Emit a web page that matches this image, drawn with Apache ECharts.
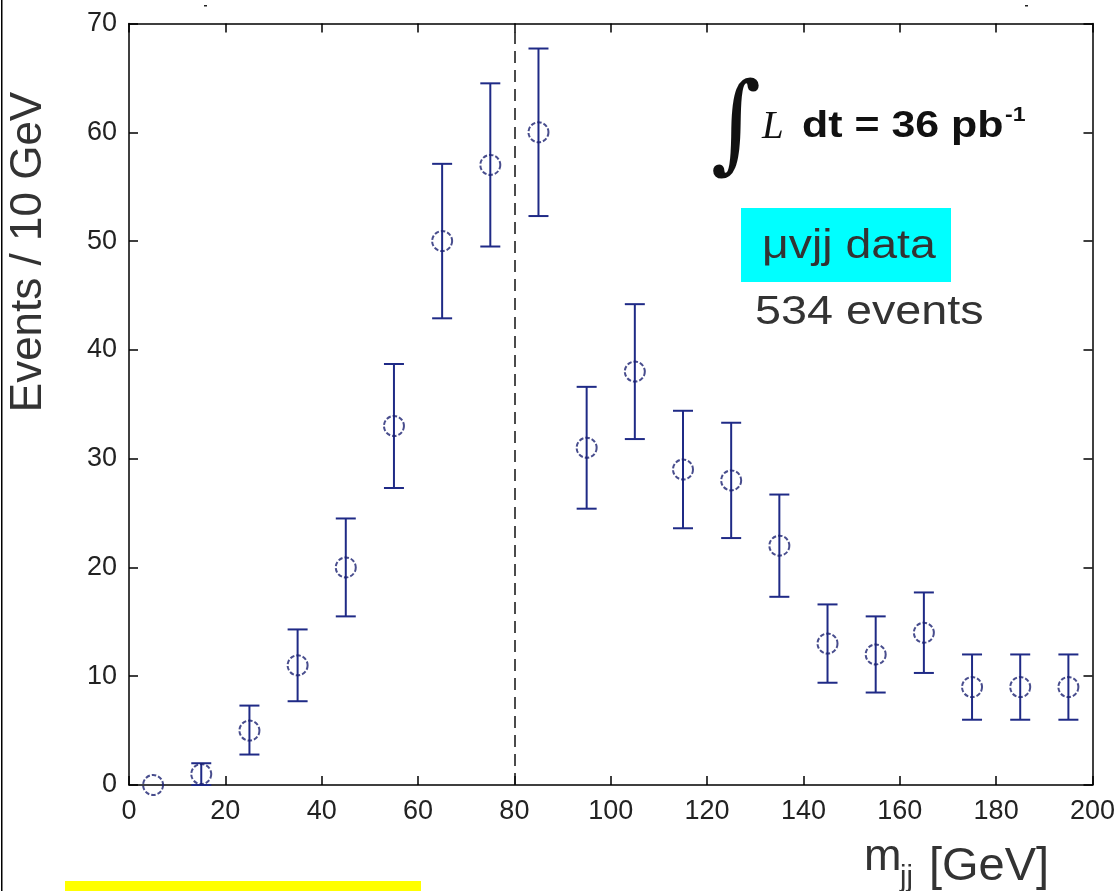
<!DOCTYPE html>
<html>
<head>
<meta charset="utf-8">
<script src="https://cdn.jsdelivr.net/npm/echarts@6/dist/echarts.min.js"></script>
<style>
html,body{margin:0;padding:0;background:#fff;}
#chart{width:1118px;height:891px;}
</style>
</head>
<body>
<div id="chart"></div>
<script>
// ---- data ----
const binCenters = [5,15,25,35,45,55,65,75,85,95,105,115,125,135,145,155,165,175,185,195];
const events     = [0,1,5,11,20,33,50,57,60,31,38,29,28,22,13,12,14,9,9,9];
const errLow     = [0,0,2.8,7.7,15.5,27.3,42.9,49.5,52.3,25.4,31.8,23.6,22.7,17.3,9.4,8.5,10.3,6,6,6];
const errHigh    = [0,2,7.3,14.3,24.5,38.7,57.1,64.5,67.7,36.6,44.2,34.4,33.3,26.7,16.6,15.5,17.7,12,12,12];
const xTicks = {min:0, max:200, step:20};
const yTicks = {min:0, max:70, step:10};
const cutValue = 80;
const yAxisTitle = 'Events / 10 GeV';
const lumiText = 'dt = 36 pb';
const sampleText = 'μvjj data';
const countText = '534 events';

const navy = '#1f2a86';
const pts = binCenters.map((x,i)=>[x, events[i]]);
const bars = binCenters.map((x,i)=>[x, errLow[i], errHigh[i]]).filter(d=>d[2]>d[1]);

const axisLineStyle = {color:'#000', width:1.5};
const labelFont = {fontFamily:'Liberation Sans', fontSize:27, color:'#222'};

function baseAxis(extra){
  return Object.assign({
    type:'value', splitLine:{show:false},
    axisLine:{show:true, onZero:false, lineStyle:axisLineStyle},
    axisTick:{show:true, inside:true, length:9, lineStyle:axisLineStyle}
  }, extra);
}

const chart = echarts.init(document.getElementById('chart'), null, {renderer:'canvas'});
chart.setOption({
  backgroundColor:'#fff',
  animation:false,
  grid:{left:129, right:23, top:23.5, bottom:106},
  xAxis:[
    baseAxis({position:'bottom', min:xTicks.min, max:xTicks.max, interval:xTicks.step,
      axisLabel:Object.assign({margin:13}, labelFont)}),
    baseAxis({position:'top', min:xTicks.min, max:xTicks.max, interval:xTicks.step, axisLabel:{show:false}})
  ],
  yAxis:[
    baseAxis({position:'left', min:yTicks.min, max:yTicks.max, interval:yTicks.step,
      axisLabel:Object.assign({margin:12}, labelFont)}),
    baseAxis({position:'right', min:yTicks.min, max:yTicks.max, interval:yTicks.step, axisLabel:{show:false}})
  ],
  series:[
    {
      type:'custom', xAxisIndex:0, yAxisIndex:0, z:2,
      encode:{x:0, y:[1,2]},
      data:bars,
      renderItem:function(params, api){
        const x = api.value(0), lo = api.value(1), hi = api.value(2);
        const pT = api.coord([x, hi]), pB = api.coord([x, lo]);
        const hw = 10;
        const st = {stroke:navy, lineWidth:2};
        return {type:'group', children:[
          {type:'line', shape:{x1:pT[0], y1:pT[1], x2:pB[0], y2:pB[1]}, style:st},
          {type:'line', shape:{x1:pT[0]-hw, y1:pT[1], x2:pT[0]+hw, y2:pT[1]}, style:st},
          {type:'line', shape:{x1:pB[0]-hw, y1:pB[1], x2:pB[0]+hw, y2:pB[1]}, style:st}
        ]};
      }
    },
    {
      type:'scatter', xAxisIndex:0, yAxisIndex:0, z:3,
      data:pts, symbol:'circle', symbolSize:20,
      itemStyle:{color:'rgba(0,0,0,0)', borderColor:'#1a2070', borderWidth:2, borderType:[4.5,2]},
      markLine:{
        silent:true, symbol:['none','none'], label:{show:false},
        lineStyle:{color:'#111', type:[12,7], width:1.5},
        data:[{xAxis:cutValue}]
      }
    }
  ],
  graphic:[
    {type:'rect', left:1, top:0, shape:{width:1.5, height:891}, style:{fill:'#000'}},
    {type:'rect', x:65, y:881, shape:{width:356, height:10}, style:{fill:'#ffff00'}},
    {type:'rect', x:204, y:5, shape:{width:3, height:1.5}, style:{fill:'#222'}},
    {type:'rect', x:1025, y:5, shape:{width:3, height:1.5}, style:{fill:'#222'}},
    // y-axis title
    {type:'text', x:29, y:252, rotation:Math.PI/2,
      style:{text:yAxisTitle, font:'44px "Liberation Sans"', fill:'#333',
        align:'center', verticalAlign:'middle', textAlign:'center', textVerticalAlign:'middle'}},
    // x-axis title m_jj [GeV]
    {type:'text', x:864, y:880,
      style:{text:'m', font:'45px "Liberation Sans"', fill:'#333',
        align:'left', verticalAlign:'bottom', textAlign:'left', textVerticalAlign:'bottom'}},
    {type:'text', x:900, y:892,
      style:{text:'jj', font:'29px "Liberation Sans"', fill:'#333',
        align:'left', verticalAlign:'bottom', textAlign:'left', textVerticalAlign:'bottom'}},
    {type:'text', x:929, y:867,
      style:{text:'[GeV]', font:'47px "Liberation Sans"', fill:'#333',
        align:'left', verticalAlign:'middle', textAlign:'left', textVerticalAlign:'middle'}},
    // luminosity
    {type:'text', x:711, y:131, scaleY:1.12,
      style:{text:'∫', font:'96px "DejaVu Serif"', fill:'#111',
        align:'left', verticalAlign:'middle', textAlign:'left', textVerticalAlign:'middle'}},
    {type:'text', x:762, y:128,
      style:{text:'L', font:'italic 39px "Liberation Serif"', fill:'#111',
        align:'left', verticalAlign:'middle', textAlign:'left', textVerticalAlign:'middle'}},
    {type:'text', x:802, y:127, scaleX:1.16,
      style:{text:lumiText, font:'bold 37px "Liberation Sans"', fill:'#111',
        align:'left', verticalAlign:'middle', textAlign:'left', textVerticalAlign:'middle'}},
    {type:'text', x:1005, y:115, scaleX:1.1,
      style:{text:'-1', font:'bold 21px "Liberation Sans"', fill:'#111',
        align:'left', verticalAlign:'middle', textAlign:'left', textVerticalAlign:'middle'}},
    // sample box
    {type:'rect', x:741, y:208, shape:{width:210, height:74}, style:{fill:'#00ffff'}},
    {type:'text', x:762, y:247, scaleX:1.16,
      style:{text:sampleText, font:'40px "Liberation Sans"', fill:'#333',
        align:'left', verticalAlign:'middle', textAlign:'left', textVerticalAlign:'middle'}},
    {type:'text', x:755, y:313, scaleX:1.14,
      style:{text:countText, font:'41px "Liberation Sans"', fill:'#333',
        align:'left', verticalAlign:'middle', textAlign:'left', textVerticalAlign:'middle'}}
  ]
});
</script>
</body>
</html>
